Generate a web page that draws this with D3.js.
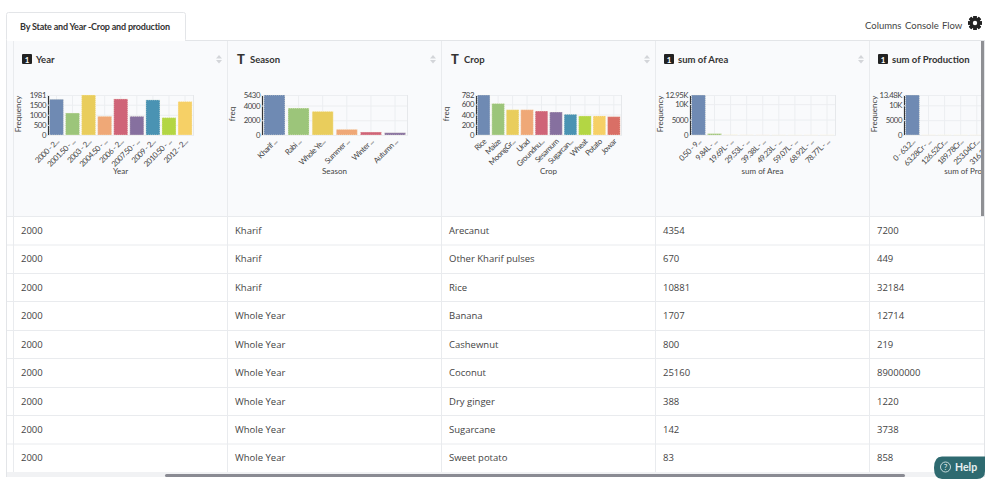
<!DOCTYPE html>
<html>
<head>
<meta charset="utf-8">
<script src="https://cdn.jsdelivr.net/npm/d3@7"></script>
<style>
  html, body { margin: 0; padding: 0; background: #fff; overflow: hidden; }
  svg { display: block; }
  .tick-label { font-family: Lato, sans-serif; font-size: 7.8px; letter-spacing: -0.45px; fill: #444; }
  .axis-title { font-family: Lato, sans-serif; font-size: 8px; fill: #444; }
  .head { font-family: Lato, sans-serif; font-size: 9.5px; font-weight: 700; fill: #333; }
  .tab { font-family: Lato, sans-serif; font-size: 9px; letter-spacing: -0.2px; font-weight: 700; fill: #333; }
  .cell { font-family: "Open Sans", sans-serif; font-size: 9.5px; fill: #444; }
  .top { font-family: Lato, sans-serif; font-size: 9.5px; fill: #444; }
</style>
</head>
<body>
<svg id="chart" width="1000" height="479"></svg>
<script>
// Column summary charts
var yearLabels = ["2000 - 2...", "2001.50 - ...", "2003 - 2...", "2004.50 - ...", "2006 - 2...", "2007.50 - ...", "2009 - 2...", "2010.50 - ...", "2012 - 2..."];
var yearValues = [1770, 1088, 1981, 925, 1786, 925, 1737, 860, 1656];
var yearTicks = [0, 500, 1000, 1500, 1981];

var seasonLabels = ["Kharif ...", "Rabi ...", "Whole Ye...", "Summer ...", "Winter ...", "Autumn ..."];
var seasonValues = [5430, 3650, 3200, 760, 400, 310];
var seasonTicks = [0, 2000, 4000, 5430];

var cropLabels = ["Rice", "Maize", "MoongGr...", "Urad", "Groundnu...", "Sesamum", "Sugarcan...", "Wheat", "Potato", "Jowar"];
var cropValues = [782, 615, 494, 494, 468, 449, 404, 372, 372, 359];
var cropTicks = [0, 200, 400, 600, 782];

var areaLabels = ["0.50 - 9...", "9.84L - ...", "19.69L - ...", "29.53L - ...", "39.38L - ...", "49.23L - ...", "59.07L - ...", "68.92L - ...", "78.77L - ..."];
var areaValues = [12950, 450, 20, 8, 5, 3, 2, 1, 1];
var areaTicks = [0, 5000, 10000, 12950];

var prodLabels = ["0 - 63.2...", "63.28Cr - ...", "126.52Cr...", "189.78Cr...", "253.04Cr...", "316.30Cr...", "379.56Cr...", "442.82Cr...", "506.08Cr..."];
var prodValues = [13480, 3, 2, 1, 1, 1, 0, 0, 1];
var prodTicks = [0, 5000, 10000, 13480];

var barColors = ["#6f8ab3", "#9cc57a", "#e9cd5c", "#efa877", "#cf6478", "#86709f", "#4a93b3", "#b3d644", "#f6d066", "#d96f66"];

// Table rows
var rowYear = [2000, 2000, 2000, 2000, 2000, 2000, 2000, 2000, 2000];
var rowSeason = ["Kharif", "Kharif", "Kharif", "Whole Year", "Whole Year", "Whole Year", "Whole Year", "Whole Year", "Whole Year"];
var rowCrop = ["Arecanut", "Other Kharif pulses", "Rice", "Banana", "Cashewnut", "Coconut", "Dry ginger", "Sugarcane", "Sweet potato"];
var rowArea = [4354, 670, 10881, 1707, 800, 25160, 388, 142, 83];
var rowProd = [7200, 449, 32184, 12714, 219, 89000000, 1220, 3738, 858];

var svg = d3.select("#chart");
var colX = [13, 227, 441, 655, 869];
var rowY = [216, 244.5, 273, 301, 330, 358, 387, 415, 443.5, 472];

function fmt(d) {
    if (d >= 10000 && d % 1000 == 0) return (d / 1000) + "K";
    if (d >= 10000) return (d / 1000).toFixed(2) + "K";
    return "" + d;
}

// Tab and panel
svg.append("rect").attr("x", 6.5).attr("y", 40.5).attr("width", 978).attr("height", 436).attr("fill", "#fff").attr("stroke", "#e3e5e8");
svg.append("rect").attr("x", 6.5).attr("y", 12.5).attr("width", 179).attr("height", 29).attr("rx", 2).attr("fill", "#fff").attr("stroke", "#e3e5e8");
svg.append("rect").attr("x", 7).attr("y", 39).attr("width", 178).attr("height", 3).attr("fill", "#fff");
svg.append("text").attr("class", "tab").attr("x", 20).attr("y", 30).text("By State and Year -Crop and production");

svg.append("text").attr("class", "top").attr("x", 865).attr("y", 29).text("Columns");
svg.append("text").attr("class", "top").attr("x", 905).attr("y", 29).text("Console");
svg.append("text").attr("class", "top").attr("x", 942).attr("y", 29).text("Flow");

// Gear
var gear = svg.append("g").attr("transform", "translate(975,23)");
d3.range(8).forEach(function (i) {
    gear.append("rect").attr("x", -1.7).attr("y", -7).attr("width", 3.4).attr("height", 14).attr("fill", "#222")
        .attr("transform", "rotate(" + (i * 45) + ")");
});
gear.append("circle").attr("r", 5.2).attr("fill", "#222");
gear.append("circle").attr("r", 2.2).attr("fill", "#fff");

// Header band
svg.append("rect").attr("x", 7).attr("y", 41).attr("width", 977).attr("height", 175).attr("fill", "#f9fafc");

// Table cells
var rowsData = [rowYear, rowSeason, rowCrop, rowArea, rowProd];
var tableLayer = svg.append("g");
rowY.forEach(function (y) {
    tableLayer.append("line").attr("x1", 7).attr("x2", 984).attr("y1", y + 0.5).attr("y2", y + 0.5).attr("stroke", "#e9ebee");
});
colX.forEach(function (x) {
    tableLayer.append("line").attr("x1", x + 0.5).attr("x2", x + 0.5).attr("y1", 41).attr("y2", 476).attr("stroke", "#e9ebee");
});
rowsData.forEach(function (col, c) {
    col.forEach(function (v, r) {
        tableLayer.append("text").attr("class", "cell")
            .attr("x", colX[c] + 8)
            .attr("y", (rowY[r] + rowY[r + 1]) / 2 + 3.5)
            .text(v);
    });
});

svg.append("clipPath").attr("id", "panelClip").append("rect").attr("x", 7).attr("y", 41).attr("width", 974).attr("height", 175);

// Create Function for one column header with its bar chart
function drawColumn(col, name, numeric, yName, labels, values, ticks) {
    var g = svg.append("g").attr("clip-path", "url(#panelClip)");
    var left = colX[col];

    if (numeric) {
        g.append("rect").attr("x", left + 9).attr("y", 54).attr("width", 10).attr("height", 10).attr("rx", 1).attr("fill", "#222");
        g.append("text").attr("x", left + 14).attr("y", 62.5).attr("text-anchor", "middle")
            .attr("font-family", "Lato, sans-serif").attr("font-size", "8px").attr("font-weight", 700).attr("fill", "#fff").text("1");
    } else {
        g.append("text").attr("x", left + 14).attr("y", 64).attr("text-anchor", "middle")
            .attr("font-family", "Lato, sans-serif").attr("font-size", "13px").attr("font-weight", 900).attr("fill", "#333").text("T");
    }
    g.append("text").attr("class", "head").attr("x", left + 23).attr("y", 63).text(name);

    // Sort arrows
    var sx = left + 206;
    g.append("path").attr("d", "M" + (sx - 3) + ",58.5 L" + sx + ",55 L" + (sx + 3) + ",58.5 Z").attr("fill", "#d3d5d9");
    g.append("path").attr("d", "M" + (sx - 3) + ",60 L" + sx + ",63.5 L" + (sx + 3) + ",60 Z").attr("fill", "#d3d5d9");

    var x0 = left + 35;
    var x = d3.scaleBand().domain(labels).range([x0 + 0.5, x0 + 145]).paddingInner(0.13).paddingOuter(0.06);
    var y = d3.scaleLinear().domain([0, ticks[ticks.length - 1]]).range([135, 95]);

    var gx = g.append("g").attr("transform", "translate(0,135)")
        .call(d3.axisBottom(x).tickSize(-40));
    gx.select(".domain").attr("stroke", "#e6e8eb");
    gx.selectAll(".tick line").attr("stroke", "#eceef1");
    gx.selectAll(".tick text").attr("class", "tick-label")
        .attr("x", 0).attr("y", 0).attr("dy", "3px")
        .attr("text-anchor", "end")
        .attr("transform", "translate(1,5) rotate(-45)");
    // Only the bins inside the window keep a label
    gx.selectAll(".tick").filter(function (d) { return x(d) > 1000; }).select("text").remove();

    var gy = g.append("g").attr("transform", "translate(" + x0 + ",0)")
        .call(d3.axisLeft(y).tickValues(ticks).tickFormat(fmt).tickSize(-145).tickPadding(2));
    gy.select(".domain").attr("stroke", "#333").attr("stroke-width", 1.2);
    gy.selectAll(".tick line").attr("stroke", "#eceef1");
    gy.selectAll(".tick text").attr("class", "tick-label");

    g.selectAll(".bar").data(values).enter().append("rect")
        .attr("class", "bar")
        .attr("x", function (d, i) { return x(labels[i]); })
        .attr("y", function (d) { return y(d); })
        .attr("width", x.bandwidth())
        .attr("height", function (d) { return 135 - y(d); })
        .attr("fill", function (d, i) { return barColors[i]; })
        .attr("stroke", "#fbf6e4").attr("stroke-width", 0.6).attr("stroke-dasharray", "1,1");

    g.append("text").attr("class", "axis-title").attr("x", x0 + 72.5).attr("y", 174).attr("text-anchor", "middle").text(name);
    g.append("text").attr("class", "axis-title")
        .attr("transform", "translate(" + (x0 - 27) + ",114) rotate(-90)")
        .attr("text-anchor", "middle").text(yName);
}

drawColumn(0, "Year", true, "Frequency", yearLabels, yearValues, yearTicks);
drawColumn(1, "Season", false, "freq", seasonLabels, seasonValues, seasonTicks);
drawColumn(2, "Crop", false, "freq", cropLabels, cropValues, cropTicks);
drawColumn(3, "sum of Area", true, "Frequency", areaLabels, areaValues, areaTicks);
drawColumn(4, "sum of Production", true, "Frequency", prodLabels, prodValues, prodTicks);

// Scrollbars
svg.append("rect").attr("x", 981).attr("y", 41).attr("width", 3).attr("height", 175).attr("fill", "#8f9094");
svg.append("rect").attr("x", 7).attr("y", 472).attr("width", 977).attr("height", 5).attr("fill", "#f1f2f4");
svg.append("rect").attr("x", 165).attr("y", 474).attr("width", 740).attr("height", 3).attr("rx", 1.5).attr("fill", "#8a8b93");

// Help button
svg.append("path").attr("d", "M942,456.5 H985 V471 Q985,479 977,479 H942 Q934,479 934,468 Q934,456.5 942,456.5 Z").attr("fill", "#2e6a70");
svg.append("circle").attr("cx", 945.5).attr("cy", 467).attr("r", 5).attr("fill", "none").attr("stroke", "#d5e4e5").attr("stroke-width", 0.9);
svg.append("text").attr("x", 945.5).attr("y", 470).attr("text-anchor", "middle")
    .attr("font-family", "Lato, sans-serif").attr("font-size", "8px").attr("fill", "#e8f0f0").text("?");
svg.append("text").attr("x", 955).attr("y", 471).attr("font-family", "Lato, sans-serif").attr("font-size", "10.5px")
    .attr("font-weight", 700).attr("fill", "#e8f0f0").text("Help");
</script>
</body>
</html>
